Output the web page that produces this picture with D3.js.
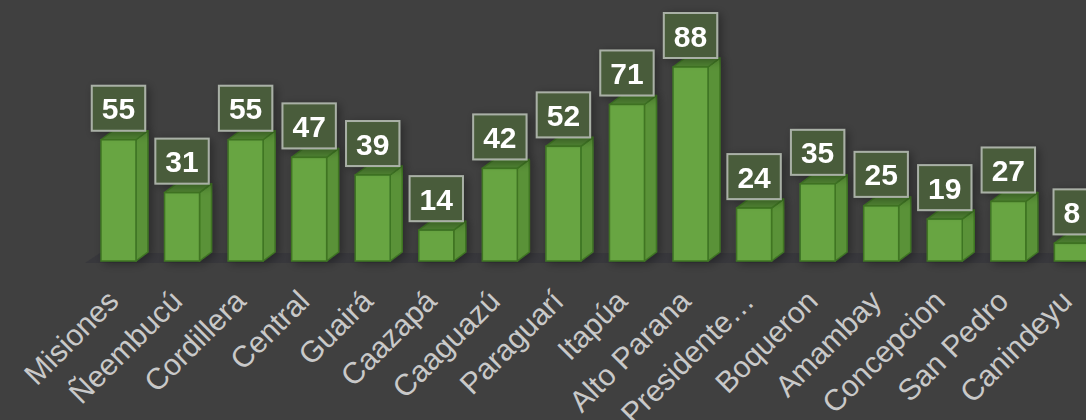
<!DOCTYPE html>
<html>
<head>
<meta charset="utf-8">
<script src="https://cdn.jsdelivr.net/npm/d3@7"></script>
<style>
  body { margin: 0; background: #404040; overflow: hidden; }
  svg { display: block; }
</style>
</head>
<body>
<svg id="chart" width="1086" height="420"></svg>
<script>
const departments = ["Misiones", "Ñeembucú", "Cordillera", "Central", "Guairá", "Caazapá",
  "Caaguazú", "Paraguarí", "Itapúa", "Alto Parana", "Presidente…", "Boqueron",
  "Amambay", "Concepcion", "San Pedro", "Canindeyu"];
const cases = [55, 31, 55, 47, 39, 14, 42, 52, 71, 88, 24, 35, 25, 19, 27, 8];

const W = 1086, H = 420;
const base = 261;
const dx = 12, dy = 9; // 3d depth

const svg = d3.select("#chart");
svg.append("rect").attr("width", W).attr("height", H).attr("fill", "#404040");

const defs = svg.append("defs");
const shadow = defs.append("filter").attr("id", "shadow")
  .attr("x", "-50%").attr("y", "-50%").attr("width", "200%").attr("height", "200%");
shadow.append("feGaussianBlur").attr("in", "SourceAlpha").attr("stdDeviation", 5).attr("result", "b");
shadow.append("feOffset").attr("in", "b").attr("dx", 3).attr("dy", 2).attr("result", "o");
shadow.append("feComponentTransfer").attr("in", "o").attr("result", "s")
  .append("feFuncA").attr("type", "linear").attr("slope", 0.35);
const merge = shadow.append("feMerge");
merge.append("feMergeNode").attr("in", "s");
merge.append("feMergeNode").attr("in", "SourceGraphic");

const x = d3.scaleBand()
  .domain(departments)
  .range([86.7, 86.7 + departments.length * 63.56])
  .paddingInner(0.45)
  .paddingOuter(0.225);

const y = d3.scaleLinear().domain([0, 88]).range([base, 67]);

// floor
svg.append("path")
  .attr("d", `M85,${base + 2}L${85 + dx + 3},${base + 2 - dy - 1}L${W + 20},${base + 2 - dy - 1}L${W + 20},${base + 2}Z`)
  .attr("fill", "#38383c");

const bw = x.bandwidth();
const g = svg.append("g");
const bars = g.selectAll("g.bar").data(cases).join("g").attr("class", "bar")
  .attr("filter", "url(#shadow)");

// side face
bars.append("path")
  .attr("d", (d, i) => {
    const x0 = x(departments[i]) + bw, yt = y(d);
    return `M${x0},${base}L${x0 + dx},${base - dy}L${x0 + dx},${yt - dy}L${x0},${yt}Z`;
  })
  .attr("fill", "#5a9237").attr("stroke", "#3f7524").attr("stroke-width", 1.5)
  .attr("stroke-linejoin", "round");

// top face
bars.append("path")
  .attr("d", (d, i) => {
    const x0 = x(departments[i]), yt = y(d);
    return `M${x0},${yt}L${x0 + dx},${yt - dy}L${x0 + bw + dx},${yt - dy}L${x0 + bw},${yt}Z`;
  })
  .attr("fill", "#4f8231").attr("stroke", "#3f7524").attr("stroke-width", 1.5)
  .attr("stroke-linejoin", "round");

// front face
bars.append("rect")
  .attr("x", (d, i) => x(departments[i]))
  .attr("y", d => y(d))
  .attr("width", bw)
  .attr("height", d => base - y(d))
  .attr("fill", "#68a543").attr("stroke", "#3f7524").attr("stroke-width", 1.5);

// value labels
const labels = g.selectAll("g.lab").data(cases).join("g").attr("class", "lab")
  .attr("filter", "url(#shadow)");
labels.each(function (d, i) {
  const sel = d3.select(this);
  const cx = x(departments[i]) + bw / 2;
  const t = sel.append("text")
    .attr("x", cx)
    .attr("text-anchor", "middle")
    .attr("font-family", "Liberation Sans, Arial, sans-serif")
    .attr("font-weight", "bold")
    .attr("font-size", 30)
    .attr("fill", "#ffffff")
    .text(d);
  const tw = t.node().getComputedTextLength();
  const bh = 45, bwid = tw + 20;
  const bottom = y(d) - dy;
  sel.insert("rect", "text")
    .attr("x", cx - bwid / 2)
    .attr("y", bottom - bh)
    .attr("width", bwid)
    .attr("height", bh)
    .attr("fill", "#4a5c3b")
    .attr("stroke", "#a9b0a6")
    .attr("stroke-width", 2);
  t.attr("y", bottom - bh / 2 + 11);
});

// category labels
svg.append("g").selectAll("text").data(departments).join("text")
  .attr("transform", d => `translate(${x(d) + bw / 2 + 2},${base + 42}) rotate(-45)`)
  .attr("text-anchor", "end")
  .attr("font-family", "Liberation Sans, Arial, sans-serif")
  .attr("font-size", 30)
  .attr("fill", "#c9c9c9")
  .text(d => d);
</script>
</body>
</html>
